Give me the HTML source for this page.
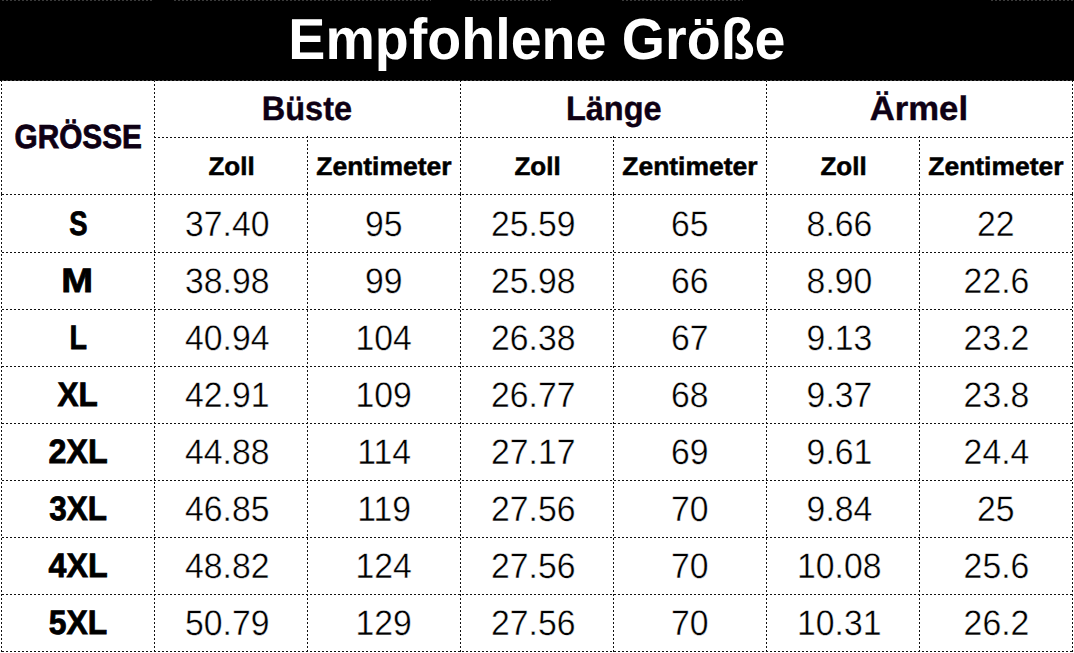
<!DOCTYPE html>
<html><head><meta charset="utf-8"><style>
html,body{margin:0;padding:0;background:#fff;text-rendering:geometricPrecision;}
body{width:1074px;height:653px;position:relative;overflow:hidden;font-family:"Liberation Sans",sans-serif;}
.hd{position:absolute;left:0;top:0;width:1074px;height:80px;background:#000;}
.t{position:absolute;width:600px;text-align:center;white-space:nowrap;}
.t span{display:inline-block;transform-origin:50% 50%;}
svg{position:absolute;left:0;top:0;}
</style></head><body>
<div class="hd"></div>
<svg width="1074" height="653" fill="none">
<g stroke="#111" stroke-width="1" stroke-dasharray="2 2">
<line x1="154" y1="137.5" x2="1073" y2="137.5"/>
<line x1="2" y1="194.5" x2="1073" y2="194.5"/>
<line x1="2" y1="252.5" x2="1073" y2="252.5"/>
<line x1="2" y1="309.5" x2="1073" y2="309.5"/>
<line x1="2" y1="366.5" x2="1073" y2="366.5"/>
<line x1="2" y1="423.5" x2="1073" y2="423.5"/>
<line x1="2" y1="480.5" x2="1073" y2="480.5"/>
<line x1="2" y1="537.5" x2="1073" y2="537.5"/>
<line x1="2" y1="594.5" x2="1073" y2="594.5"/>
<line x1="2" y1="651.5" x2="1073" y2="651.5"/>
<line x1="1.5" y1="80" x2="1.5" y2="194"/>
<line x1="1.5" y1="194" x2="1.5" y2="652"/>
<line x1="154.5" y1="80" x2="154.5" y2="194"/>
<line x1="154.5" y1="194" x2="154.5" y2="652"/>
<line x1="307.5" y1="136" x2="307.5" y2="194"/>
<line x1="307.5" y1="194" x2="307.5" y2="652"/>
<line x1="460.5" y1="80" x2="460.5" y2="194"/>
<line x1="460.5" y1="194" x2="460.5" y2="652"/>
<line x1="613.5" y1="136" x2="613.5" y2="194"/>
<line x1="613.5" y1="194" x2="613.5" y2="652"/>
<line x1="766.5" y1="80" x2="766.5" y2="194"/>
<line x1="766.5" y1="194" x2="766.5" y2="652"/>
<line x1="919.5" y1="136" x2="919.5" y2="194"/>
<line x1="919.5" y1="194" x2="919.5" y2="652"/>
<line x1="1072.5" y1="80" x2="1072.5" y2="194"/>
<line x1="1072.5" y1="194" x2="1072.5" y2="652"/>
</g>
<line x1="0" y1="80.5" x2="1074" y2="80.5" stroke="#444" stroke-width="1"/>
<line x1="0" y1="80.5" x2="1074" y2="80.5" stroke="#000" stroke-width="1" stroke-dasharray="2 2"/>
<g stroke="#3a3a3a" stroke-width="1" stroke-dasharray="2 2"><line x1="2" y1="0.5" x2="153" y2="0.5"/><line x1="174" y1="0.5" x2="431" y2="0.5"/><line x1="470" y1="0.5" x2="551" y2="0.5"/><line x1="622" y1="0.5" x2="743" y2="0.5"/><line x1="991" y1="0.5" x2="1074" y2="0.5"/></g>
</svg>
<div class="t" style="left:236.70px;top:11.89px;font-size:57.9px;font-weight:700;line-height:57.9px;color:#fff;"><span style="transform:scale(0.96,1.0);transform-origin:50% 49.01px">Empfohlene Größe</span></div><div class="t" style="left:-221.70px;top:120.71px;font-size:33.3px;font-weight:700;line-height:33.3px;color:#0e0014;-webkit-text-stroke:0.8px #0e0014;"><span style="transform:scale(0.894,1.0);transform-origin:50% 28.19px">GRÖSSE</span></div><div class="t" style="left:7.25px;top:92.69px;font-size:33.8px;font-weight:700;line-height:33.8px;color:#0e0014;-webkit-text-stroke:0.4px #0e0014;"><span style="transform:scale(0.962,1.0);transform-origin:50% 28.61px">Büste</span></div><div class="t" style="left:-68.85px;top:154.60px;font-size:25.4px;font-weight:700;line-height:25.4px;color:#000;-webkit-text-stroke:0.5px #000;"><span style="transform:scale(1.024,1.0);transform-origin:50% 21.50px">Zoll</span></div><div class="t" style="left:84.00px;top:154.60px;font-size:25.4px;font-weight:700;line-height:25.4px;color:#000;-webkit-text-stroke:0.5px #000;"><span style="transform:scale(1.042,1.0);transform-origin:50% 21.50px">Zentimeter</span></div><div class="t" style="left:313.75px;top:92.69px;font-size:33.8px;font-weight:700;line-height:33.8px;color:#0e0014;-webkit-text-stroke:0.4px #0e0014;"><span style="transform:scale(0.962,1.0);transform-origin:50% 28.61px">Länge</span></div><div class="t" style="left:237.15px;top:154.60px;font-size:25.4px;font-weight:700;line-height:25.4px;color:#000;-webkit-text-stroke:0.5px #000;"><span style="transform:scale(1.024,1.0);transform-origin:50% 21.50px">Zoll</span></div><div class="t" style="left:390.00px;top:154.60px;font-size:25.4px;font-weight:700;line-height:25.4px;color:#000;-webkit-text-stroke:0.5px #000;"><span style="transform:scale(1.042,1.0);transform-origin:50% 21.50px">Zentimeter</span></div><div class="t" style="left:619.10px;top:92.69px;font-size:33.8px;font-weight:700;line-height:33.8px;color:#0e0014;-webkit-text-stroke:0.4px #0e0014;"><span style="transform:scale(1.026,1.0);transform-origin:50% 28.61px">Ärmel</span></div><div class="t" style="left:543.15px;top:154.60px;font-size:25.4px;font-weight:700;line-height:25.4px;color:#000;-webkit-text-stroke:0.5px #000;"><span style="transform:scale(1.024,1.0);transform-origin:50% 21.50px">Zoll</span></div><div class="t" style="left:696.00px;top:154.60px;font-size:25.4px;font-weight:700;line-height:25.4px;color:#000;-webkit-text-stroke:0.5px #000;"><span style="transform:scale(1.042,1.0);transform-origin:50% 21.50px">Zentimeter</span></div><div class="t" style="left:-222.00px;top:207.70px;font-size:33.9px;font-weight:700;line-height:33.9px;color:#000;-webkit-text-stroke:0.8px #000;"><span style="transform:scale(0.81,1.0);transform-origin:50% 28.70px">S</span></div><div class="t" style="left:-73.00px;top:206.83px;font-size:35.4px;font-weight:400;line-height:35.4px;color:#000;-webkit-text-stroke:0.4px #fff;"><span style="transform:scale(0.953,1.0);transform-origin:50% 29.97px">37.40</span></div><div class="t" style="left:84.00px;top:206.83px;font-size:35.4px;font-weight:400;line-height:35.4px;color:#000;-webkit-text-stroke:0.4px #fff;"><span style="transform:scale(0.953,1.0);transform-origin:50% 29.97px">95</span></div><div class="t" style="left:233.00px;top:206.83px;font-size:35.4px;font-weight:400;line-height:35.4px;color:#000;-webkit-text-stroke:0.4px #fff;"><span style="transform:scale(0.953,1.0);transform-origin:50% 29.97px">25.59</span></div><div class="t" style="left:390.00px;top:206.83px;font-size:35.4px;font-weight:400;line-height:35.4px;color:#000;-webkit-text-stroke:0.4px #fff;"><span style="transform:scale(0.953,1.0);transform-origin:50% 29.97px">65</span></div><div class="t" style="left:539.00px;top:206.83px;font-size:35.4px;font-weight:400;line-height:35.4px;color:#000;-webkit-text-stroke:0.4px #fff;"><span style="transform:scale(0.953,1.0);transform-origin:50% 29.97px">8.66</span></div><div class="t" style="left:696.00px;top:206.83px;font-size:35.4px;font-weight:400;line-height:35.4px;color:#000;-webkit-text-stroke:0.4px #fff;"><span style="transform:scale(0.953,1.0);transform-origin:50% 29.97px">22</span></div><div class="t" style="left:-222.85px;top:264.70px;font-size:33.9px;font-weight:700;line-height:33.9px;color:#000;-webkit-text-stroke:0.8px #000;"><span style="transform:scale(1.125,1.0);transform-origin:50% 28.70px">M</span></div><div class="t" style="left:-73.00px;top:263.83px;font-size:35.4px;font-weight:400;line-height:35.4px;color:#000;-webkit-text-stroke:0.4px #fff;"><span style="transform:scale(0.953,1.0);transform-origin:50% 29.97px">38.98</span></div><div class="t" style="left:84.00px;top:263.83px;font-size:35.4px;font-weight:400;line-height:35.4px;color:#000;-webkit-text-stroke:0.4px #fff;"><span style="transform:scale(0.953,1.0);transform-origin:50% 29.97px">99</span></div><div class="t" style="left:233.00px;top:263.83px;font-size:35.4px;font-weight:400;line-height:35.4px;color:#000;-webkit-text-stroke:0.4px #fff;"><span style="transform:scale(0.953,1.0);transform-origin:50% 29.97px">25.98</span></div><div class="t" style="left:390.00px;top:263.83px;font-size:35.4px;font-weight:400;line-height:35.4px;color:#000;-webkit-text-stroke:0.4px #fff;"><span style="transform:scale(0.953,1.0);transform-origin:50% 29.97px">66</span></div><div class="t" style="left:539.00px;top:263.83px;font-size:35.4px;font-weight:400;line-height:35.4px;color:#000;-webkit-text-stroke:0.4px #fff;"><span style="transform:scale(0.953,1.0);transform-origin:50% 29.97px">8.90</span></div><div class="t" style="left:696.00px;top:263.83px;font-size:35.4px;font-weight:400;line-height:35.4px;color:#000;-webkit-text-stroke:0.4px #fff;"><span style="transform:scale(0.953,1.0);transform-origin:50% 29.97px">22.6</span></div><div class="t" style="left:-222.00px;top:321.70px;font-size:33.9px;font-weight:700;line-height:33.9px;color:#000;-webkit-text-stroke:0.8px #000;"><span style="transform:scale(0.845,1.0);transform-origin:50% 28.70px">L</span></div><div class="t" style="left:-73.00px;top:320.83px;font-size:35.4px;font-weight:400;line-height:35.4px;color:#000;-webkit-text-stroke:0.4px #fff;"><span style="transform:scale(0.953,1.0);transform-origin:50% 29.97px">40.94</span></div><div class="t" style="left:84.00px;top:320.83px;font-size:35.4px;font-weight:400;line-height:35.4px;color:#000;-webkit-text-stroke:0.4px #fff;"><span style="transform:scale(0.953,1.0);transform-origin:50% 29.97px">104</span></div><div class="t" style="left:233.00px;top:320.83px;font-size:35.4px;font-weight:400;line-height:35.4px;color:#000;-webkit-text-stroke:0.4px #fff;"><span style="transform:scale(0.953,1.0);transform-origin:50% 29.97px">26.38</span></div><div class="t" style="left:390.00px;top:320.83px;font-size:35.4px;font-weight:400;line-height:35.4px;color:#000;-webkit-text-stroke:0.4px #fff;"><span style="transform:scale(0.953,1.0);transform-origin:50% 29.97px">67</span></div><div class="t" style="left:539.00px;top:320.83px;font-size:35.4px;font-weight:400;line-height:35.4px;color:#000;-webkit-text-stroke:0.4px #fff;"><span style="transform:scale(0.953,1.0);transform-origin:50% 29.97px">9.13</span></div><div class="t" style="left:696.00px;top:320.83px;font-size:35.4px;font-weight:400;line-height:35.4px;color:#000;-webkit-text-stroke:0.4px #fff;"><span style="transform:scale(0.953,1.0);transform-origin:50% 29.97px">23.2</span></div><div class="t" style="left:-222.00px;top:378.70px;font-size:33.9px;font-weight:700;line-height:33.9px;color:#000;-webkit-text-stroke:0.8px #000;"><span style="transform:scale(0.93,1.0);transform-origin:50% 28.70px">XL</span></div><div class="t" style="left:-73.00px;top:377.83px;font-size:35.4px;font-weight:400;line-height:35.4px;color:#000;-webkit-text-stroke:0.4px #fff;"><span style="transform:scale(0.953,1.0);transform-origin:50% 29.97px">42.91</span></div><div class="t" style="left:84.00px;top:377.83px;font-size:35.4px;font-weight:400;line-height:35.4px;color:#000;-webkit-text-stroke:0.4px #fff;"><span style="transform:scale(0.953,1.0);transform-origin:50% 29.97px">109</span></div><div class="t" style="left:233.00px;top:377.83px;font-size:35.4px;font-weight:400;line-height:35.4px;color:#000;-webkit-text-stroke:0.4px #fff;"><span style="transform:scale(0.953,1.0);transform-origin:50% 29.97px">26.77</span></div><div class="t" style="left:390.00px;top:377.83px;font-size:35.4px;font-weight:400;line-height:35.4px;color:#000;-webkit-text-stroke:0.4px #fff;"><span style="transform:scale(0.953,1.0);transform-origin:50% 29.97px">68</span></div><div class="t" style="left:539.00px;top:377.83px;font-size:35.4px;font-weight:400;line-height:35.4px;color:#000;-webkit-text-stroke:0.4px #fff;"><span style="transform:scale(0.953,1.0);transform-origin:50% 29.97px">9.37</span></div><div class="t" style="left:696.00px;top:377.83px;font-size:35.4px;font-weight:400;line-height:35.4px;color:#000;-webkit-text-stroke:0.4px #fff;"><span style="transform:scale(0.953,1.0);transform-origin:50% 29.97px">23.8</span></div><div class="t" style="left:-222.00px;top:435.70px;font-size:33.9px;font-weight:700;line-height:33.9px;color:#000;-webkit-text-stroke:0.8px #000;"><span style="transform:scale(0.95,1.0);transform-origin:50% 28.70px">2XL</span></div><div class="t" style="left:-73.00px;top:434.83px;font-size:35.4px;font-weight:400;line-height:35.4px;color:#000;-webkit-text-stroke:0.4px #fff;"><span style="transform:scale(0.953,1.0);transform-origin:50% 29.97px">44.88</span></div><div class="t" style="left:84.00px;top:434.83px;font-size:35.4px;font-weight:400;line-height:35.4px;color:#000;-webkit-text-stroke:0.4px #fff;"><span style="transform:scale(0.953,1.0);transform-origin:50% 29.97px">114</span></div><div class="t" style="left:233.00px;top:434.83px;font-size:35.4px;font-weight:400;line-height:35.4px;color:#000;-webkit-text-stroke:0.4px #fff;"><span style="transform:scale(0.953,1.0);transform-origin:50% 29.97px">27.17</span></div><div class="t" style="left:390.00px;top:434.83px;font-size:35.4px;font-weight:400;line-height:35.4px;color:#000;-webkit-text-stroke:0.4px #fff;"><span style="transform:scale(0.953,1.0);transform-origin:50% 29.97px">69</span></div><div class="t" style="left:539.00px;top:434.83px;font-size:35.4px;font-weight:400;line-height:35.4px;color:#000;-webkit-text-stroke:0.4px #fff;"><span style="transform:scale(0.953,1.0);transform-origin:50% 29.97px">9.61</span></div><div class="t" style="left:696.00px;top:434.83px;font-size:35.4px;font-weight:400;line-height:35.4px;color:#000;-webkit-text-stroke:0.4px #fff;"><span style="transform:scale(0.953,1.0);transform-origin:50% 29.97px">24.4</span></div><div class="t" style="left:-221.90px;top:492.70px;font-size:33.9px;font-weight:700;line-height:33.9px;color:#000;-webkit-text-stroke:0.8px #000;"><span style="transform:scale(0.929,1.0);transform-origin:50% 28.70px">3XL</span></div><div class="t" style="left:-73.00px;top:491.83px;font-size:35.4px;font-weight:400;line-height:35.4px;color:#000;-webkit-text-stroke:0.4px #fff;"><span style="transform:scale(0.953,1.0);transform-origin:50% 29.97px">46.85</span></div><div class="t" style="left:84.00px;top:491.83px;font-size:35.4px;font-weight:400;line-height:35.4px;color:#000;-webkit-text-stroke:0.4px #fff;"><span style="transform:scale(0.953,1.0);transform-origin:50% 29.97px">119</span></div><div class="t" style="left:233.00px;top:491.83px;font-size:35.4px;font-weight:400;line-height:35.4px;color:#000;-webkit-text-stroke:0.4px #fff;"><span style="transform:scale(0.953,1.0);transform-origin:50% 29.97px">27.56</span></div><div class="t" style="left:390.00px;top:491.83px;font-size:35.4px;font-weight:400;line-height:35.4px;color:#000;-webkit-text-stroke:0.4px #fff;"><span style="transform:scale(0.953,1.0);transform-origin:50% 29.97px">70</span></div><div class="t" style="left:539.00px;top:491.83px;font-size:35.4px;font-weight:400;line-height:35.4px;color:#000;-webkit-text-stroke:0.4px #fff;"><span style="transform:scale(0.953,1.0);transform-origin:50% 29.97px">9.84</span></div><div class="t" style="left:696.00px;top:491.83px;font-size:35.4px;font-weight:400;line-height:35.4px;color:#000;-webkit-text-stroke:0.4px #fff;"><span style="transform:scale(0.953,1.0);transform-origin:50% 29.97px">25</span></div><div class="t" style="left:-222.00px;top:549.70px;font-size:33.9px;font-weight:700;line-height:33.9px;color:#000;-webkit-text-stroke:0.8px #000;"><span style="transform:scale(0.95,1.0);transform-origin:50% 28.70px">4XL</span></div><div class="t" style="left:-73.00px;top:548.83px;font-size:35.4px;font-weight:400;line-height:35.4px;color:#000;-webkit-text-stroke:0.4px #fff;"><span style="transform:scale(0.953,1.0);transform-origin:50% 29.97px">48.82</span></div><div class="t" style="left:84.00px;top:548.83px;font-size:35.4px;font-weight:400;line-height:35.4px;color:#000;-webkit-text-stroke:0.4px #fff;"><span style="transform:scale(0.953,1.0);transform-origin:50% 29.97px">124</span></div><div class="t" style="left:233.00px;top:548.83px;font-size:35.4px;font-weight:400;line-height:35.4px;color:#000;-webkit-text-stroke:0.4px #fff;"><span style="transform:scale(0.953,1.0);transform-origin:50% 29.97px">27.56</span></div><div class="t" style="left:390.00px;top:548.83px;font-size:35.4px;font-weight:400;line-height:35.4px;color:#000;-webkit-text-stroke:0.4px #fff;"><span style="transform:scale(0.953,1.0);transform-origin:50% 29.97px">70</span></div><div class="t" style="left:539.00px;top:548.83px;font-size:35.4px;font-weight:400;line-height:35.4px;color:#000;-webkit-text-stroke:0.4px #fff;"><span style="transform:scale(0.953,1.0);transform-origin:50% 29.97px">10.08</span></div><div class="t" style="left:696.00px;top:548.83px;font-size:35.4px;font-weight:400;line-height:35.4px;color:#000;-webkit-text-stroke:0.4px #fff;"><span style="transform:scale(0.953,1.0);transform-origin:50% 29.97px">25.6</span></div><div class="t" style="left:-221.70px;top:606.70px;font-size:33.9px;font-weight:700;line-height:33.9px;color:#000;-webkit-text-stroke:0.8px #000;"><span style="transform:scale(0.94,1.0);transform-origin:50% 28.70px">5XL</span></div><div class="t" style="left:-73.00px;top:605.83px;font-size:35.4px;font-weight:400;line-height:35.4px;color:#000;-webkit-text-stroke:0.4px #fff;"><span style="transform:scale(0.953,1.0);transform-origin:50% 29.97px">50.79</span></div><div class="t" style="left:84.00px;top:605.83px;font-size:35.4px;font-weight:400;line-height:35.4px;color:#000;-webkit-text-stroke:0.4px #fff;"><span style="transform:scale(0.953,1.0);transform-origin:50% 29.97px">129</span></div><div class="t" style="left:233.00px;top:605.83px;font-size:35.4px;font-weight:400;line-height:35.4px;color:#000;-webkit-text-stroke:0.4px #fff;"><span style="transform:scale(0.953,1.0);transform-origin:50% 29.97px">27.56</span></div><div class="t" style="left:390.00px;top:605.83px;font-size:35.4px;font-weight:400;line-height:35.4px;color:#000;-webkit-text-stroke:0.4px #fff;"><span style="transform:scale(0.953,1.0);transform-origin:50% 29.97px">70</span></div><div class="t" style="left:539.00px;top:605.83px;font-size:35.4px;font-weight:400;line-height:35.4px;color:#000;-webkit-text-stroke:0.4px #fff;"><span style="transform:scale(0.953,1.0);transform-origin:50% 29.97px">10.31</span></div><div class="t" style="left:696.00px;top:605.83px;font-size:35.4px;font-weight:400;line-height:35.4px;color:#000;-webkit-text-stroke:0.4px #fff;"><span style="transform:scale(0.953,1.0);transform-origin:50% 29.97px">26.2</span></div>
</body></html>
